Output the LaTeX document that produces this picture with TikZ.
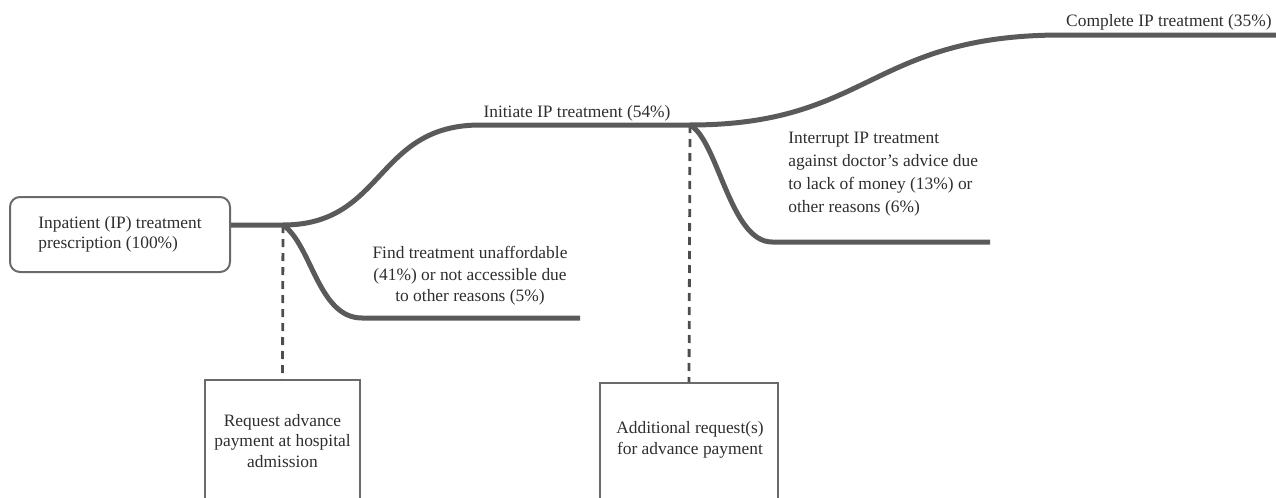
\documentclass[tikz,border=0pt]{standalone}
\usepackage{fontspec}
\setmainfont{Liberation Serif}
\definecolor{linegray}{HTML}{5A5A5A}
\definecolor{boxgray}{HTML}{6A6A6A}
\definecolor{txtgray}{HTML}{2E2E2E}
\begin{document}
\begin{tikzpicture}[x=0.5pt,y=-0.5pt,
  flow/.style={line width=2.5pt, draw=linegray},
  dashline/.style={line width=1.4pt, draw=txtgray!85, dash pattern=on 4pt off 3pt},
  lbl/.style={inner sep=0pt, text=txtgray, font=\fontsize{8.7}{10.8}\selectfont},
  startbox/.style={draw=boxgray, line width=1pt, rounded corners=5pt, minimum width=110pt, minimum height=37.5pt, inner sep=0pt, align=left, text=txtgray, font=\fontsize{8.7}{10.2}\selectfont},
  reqbox/.style={draw=boxgray, line width=1pt, inner sep=0pt, align=center, text=txtgray, font=\fontsize{8.7}{10.5}\selectfont}
]
\useasboundingbox (0,0) rectangle (1276,498);
% start box
\node[startbox] (start) at (120,234.5) {Inpatient (IP) treatment\\prescription (100\%)};
% coordinates
\coordinate (j1) at (283,225);
\coordinate (a1) at (480,125);
\coordinate (j2) at (690,125);
\coordinate (a2) at (1062,35);
\coordinate (endtop) at (1285,35);
\coordinate (b1) at (362,318);
\coordinate (b1end) at (580,318);
\coordinate (b2) at (772,242);
\coordinate (b2end) at (990,242);
% request boxes
\node[reqbox, minimum width=77.5pt, minimum height=64pt] (req1) at (282.5,444) {};
\node[lbl, align=center, font=\fontsize{8.7}{10.3}\selectfont] (req1t) at (282.5,441) {Request advance\\payment at hospital\\admission};
\node[reqbox, minimum width=89pt, minimum height=62pt] (req2) at (689,445) {};
\node[lbl, align=center, font=\fontsize{8.7}{10.3}\selectfont] (req2t) at (690,440) {Additional request(s)\\for advance payment};
% dashed
\draw[dashline] (j1) -- (req1.north);
\draw[dashline] (j2) -- (req2.north);
% main flow
\draw[flow] (start.east |- j1) -- (j1) .. controls (385,225) and (375,125) .. (a1) -- (j2) .. controls (870,125) and (870,35) .. (a2) -- (endtop);
\draw[flow] (j1) .. controls (312,245) and (318,318) .. (b1) -- (b1end);
\draw[flow] (j2) .. controls (718,140) and (730,242) .. (b2) -- (b2end);
% labels
\node[lbl] (l54) at (577,113) {Initiate IP treatment (54\%)};
\node[lbl, align=center] (l41) at (470,276) {Find treatment unaffordable\\(41\%) or not accessible due\\to other reasons (5\%)};
\node[lbl, align=left, anchor=west, font=\fontsize{8.7}{11.5}\selectfont] (l13) at (788,174) {Interrupt IP treatment\\against doctor's advice due\\to lack of money (13\%) or\\other reasons (6\%)};
\node[lbl, anchor=east] (l35) at (1272,22) {Complete IP treatment (35\%)};
\end{tikzpicture}
\end{document}
